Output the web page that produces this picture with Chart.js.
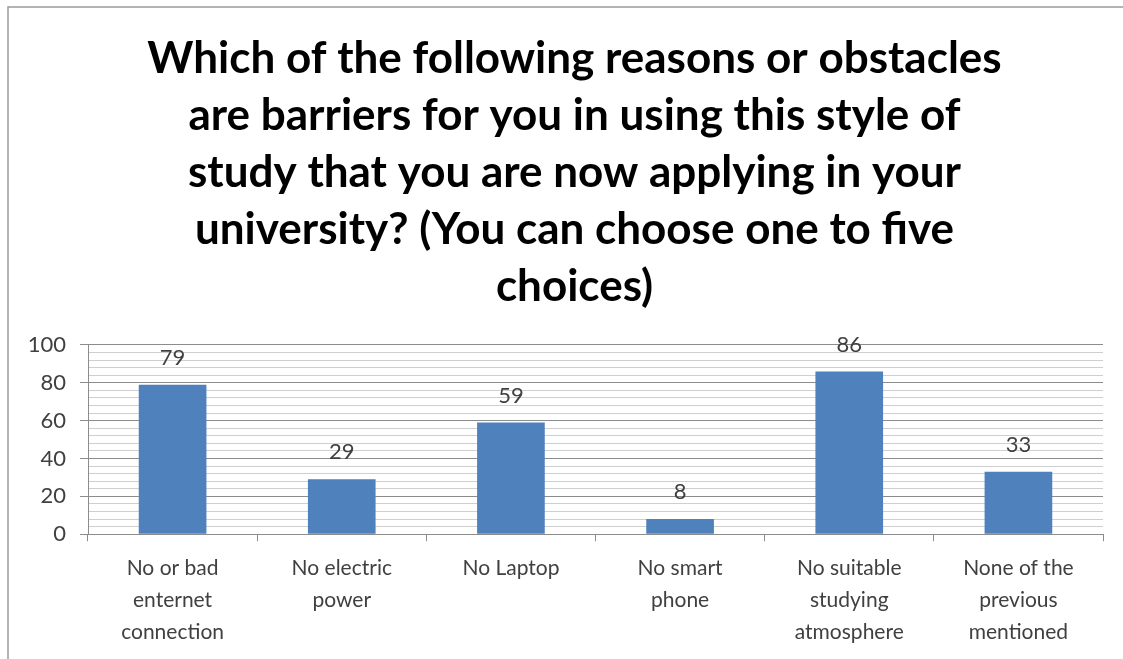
<!DOCTYPE html>
<html>
<head>
<meta charset="utf-8">
<script src="https://cdn.jsdelivr.net/npm/chart.js@4.4.0/dist/chart.umd.min.js"></script>
<style>
  html, body { margin: 0; padding: 0; background: #fff; }
  #wrap { width: 1123px; height: 659px; position: relative; }
</style>
</head>
<body>
<div id="wrap">
    <canvas id="barriers-chart" width="1123" height="659"></canvas>
</div>

<script>
// chart data
const categories = [
    ['No or bad', 'enternet', 'connection'],
    ['No electric', 'power'],
    'No Laptop',
    ['No smart', 'phone'],
    ['No suitable', 'studying', 'atmosphere'],
    ['None of the', 'previous', 'mentioned']
];
const counts = [79, 29, 59, 8, 86, 33];
const titleLines = [
    'Which of the following reasons or obstacles',
    'are barriers for you in using this style of',
    'study that you are now applying in your',
    'university? (You can choose one to five',
    'choices)'
];
const yMax = 100;
const yStep = 4;      // minor gridlines
const yLabelStep = 20; // labelled ticks

const majorGrid = '#8c8c8c';
const minorGrid = '#cfcfcf';
const fontFamily = 'Lato, "Liberation Sans", sans-serif';

// outer frame of the chart
const framePlugin = {
    id: 'frame',
    beforeDraw: function(chart) {
        const c = chart.ctx;
        c.save();
        c.fillStyle = '#fff';
        c.fillRect(0, 0, chart.width, chart.height);
        c.strokeStyle = '#9a9a9a';
        c.lineWidth = 1.5;
        c.strokeRect(8, 7, chart.width + 20, chart.height + 20);
        c.restore();
    },
    // centre the title a little right, like the original
    afterLayout: function(chart) {
        if (chart.titleBlock) chart.titleBlock.left = 46;
    }
};

// value labels above the bars
const valueLabels = {
    id: 'valueLabels',
    afterDatasetsDraw: function(chart) {
        const c = chart.ctx;
        const meta = chart.getDatasetMeta(0);
        c.save();
        c.font = '22px ' + fontFamily;
        c.fillStyle = '#404040';
        c.textAlign = 'center';
        c.textBaseline = 'middle';
        meta.data.forEach(function(bar, i) {
            c.fillText(String(counts[i]), bar.x, bar.y - 27);
        });
        c.restore();
    }
};

const ctx = document.getElementById('barriers-chart').getContext('2d');
const chart = new Chart(ctx, {
    type: 'bar',
    data: {
        labels: categories,
        datasets: [{
            data: counts,
            backgroundColor: '#4f81bd',
            borderWidth: 0,
            barPercentage: 0.4,
            categoryPercentage: 1.0
        }]
    },
    options: {
        responsive: false,
        animation: false,
        layout: { padding: { left: 14, right: 20, top: 0, bottom: 0 } },
        plugins: {
            legend: { display: false },
            tooltip: { enabled: false },
            title: {
                display: true,
                text: titleLines,
                color: '#000',
                font: { family: fontFamily, size: 44, weight: 'bold', lineHeight: 1.295 },
                padding: { top: 30, bottom: 30 }
            }
        },
        scales: {
            x: {
                grid: {
                    offset: true,
                    drawOnChartArea: false,
                    tickLength: 7,
                    color: majorGrid,
                    lineWidth: 1
                },
                border: { color: majorGrid, width: 1 },
                ticks: {
                    color: '#404040',
                    padding: 11,
                    maxRotation: 0,
                    autoSkip: false,
                    font: { family: fontFamily, size: 21, lineHeight: 1.52 }
                }
            },
            y: {
                min: 0,
                max: yMax,
                afterFit: function(scale) { scale.width = 74; },
                grid: {
                    color: function(c) { return c.tick.value % yLabelStep === 0 ? majorGrid : minorGrid; },
                    tickColor: function(c) { return c.tick.value % yLabelStep === 0 ? majorGrid : 'rgba(0,0,0,0)'; },
                    tickLength: 8,
                    lineWidth: 1
                },
                border: { color: majorGrid, width: 1 },
                ticks: {
                    stepSize: yStep,
                    autoSkip: false,
                    padding: 14,
                    color: '#404040',
                    font: { family: fontFamily, size: 22 },
                    callback: function(v) { return v % yLabelStep === 0 ? v : ''; }
                }
            }
        }
    },
    plugins: [framePlugin, valueLabels]
});
</script>
</body>
</html>
